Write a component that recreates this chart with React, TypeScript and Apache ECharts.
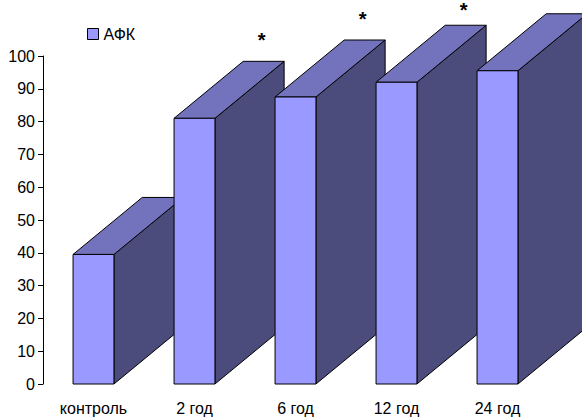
import React, { useEffect, useRef } from "react";
import * as echarts from "echarts";

const categories = ["контроль", "2 год", "6 год", "12 год", "24 год"];
const values = [39.5, 81, 87.5, 92, 95.5];
const marks = ["", "*", "*", "*", ""];
const seriesName = "АФК";
const yTicks = { min: 0, max: 100, interval: 10 };

const FRONT = "#9999ff";
const TOP = "#7373bd";
const SIDE = "#4c4c7c";
const FONT = "Liberation Sans, Arial, sans-serif";

export default function App() {
  const ref = useRef<HTMLDivElement>(null);
  useEffect(() => {
    const chart = echarts.init(ref.current!, null, { renderer: "svg" });
    const data = values.map((v, i) => [i, v]);
    chart.setOption({
      animation: false,
      textStyle: { fontFamily: FONT },
      legend: {
        left: 82,
        top: 21,
        itemWidth: 11,
        itemHeight: 11,
        itemGap: 6,
        textStyle: { fontSize: 16, color: "#000", fontFamily: FONT },
        data: [
          {
            name: seriesName,
            icon: "rect",
            itemStyle: { color: FRONT, borderColor: "#000", borderWidth: 1 },
          },
        ],
      },
      grid: { left: 43, right: 34, top: 56, bottom: 33, containLabel: false },
      xAxis: {
        type: "category",
        data: categories,
        axisLine: { show: false },
        axisTick: { show: false },
        axisLabel: { fontSize: 16, color: "#000", margin: 16, interval: 0 },
      },
      yAxis: {
        type: "value",
        min: yTicks.min,
        max: yTicks.max,
        interval: yTicks.interval,
        axisLine: { show: true, lineStyle: { color: "#000", width: 1 } },
        axisTick: { show: true, length: 5, lineStyle: { color: "#000" } },
        axisLabel: { fontSize: 16, color: "#000", margin: 8 },
        splitLine: { show: false },
      },
      series: [
        {
          name: seriesName,
          type: "custom",
          clip: false,
          itemStyle: { color: FRONT },
          encode: { x: 0, y: 1 },
          data,
          renderItem: (params: any, api: any) => {
            const idx = api.value(0);
            const val = api.value(1);
            const mark = marks[idx];
            const top = api.coord([idx, val]);
            const bot = api.coord([idx, 0]);
            const band = api.size([1, 0])[0];
            const w = band * 0.405;
            const dx = band * 0.685;
            const dy = 57;
            const x0 = top[0] - w / 2;
            const x1 = top[0] + w / 2;
            const yT = top[1];
            const yB = bot[1];
            const stroke = { stroke: "#000", lineWidth: 1 };
            const children: any[] = [
              {
                type: "polygon",
                shape: { points: [[x1, yT], [x1 + dx, yT - dy], [x1 + dx, yB - dy], [x1, yB]] },
                style: { fill: SIDE, ...stroke },
              },
              {
                type: "polygon",
                shape: { points: [[x0, yT], [x0 + dx, yT - dy], [x1 + dx, yT - dy], [x1, yT]] },
                style: { fill: TOP, ...stroke },
              },
              {
                type: "rect",
                shape: { x: x0, y: yT, width: w, height: yB - yT },
                style: { fill: FRONT, ...stroke },
              },
            ];
            if (mark) {
              const fs = 20;
              const centre = yT - dy - 25.5;
              children.push({
                type: "text",
                style: {
                  text: mark,
                  x: top[0] + dx - 2,
                  y: Math.max(centre - 0.3 * fs, 0),
                  align: "center",
                  verticalAlign: "top",
                  fontSize: fs,
                  fontWeight: "bold",
                  fill: "#000",
                  fontFamily: FONT,
                },
              });
            }
            return { type: "group", children };
          },
        },
      ],
    });
    return () => chart.dispose();
  }, []);
  return (
    <div
      ref={ref}
      style={{ position: "fixed", left: 0, top: 0, width: 582, height: 417, background: "#fff" }}
    />
  );
}
